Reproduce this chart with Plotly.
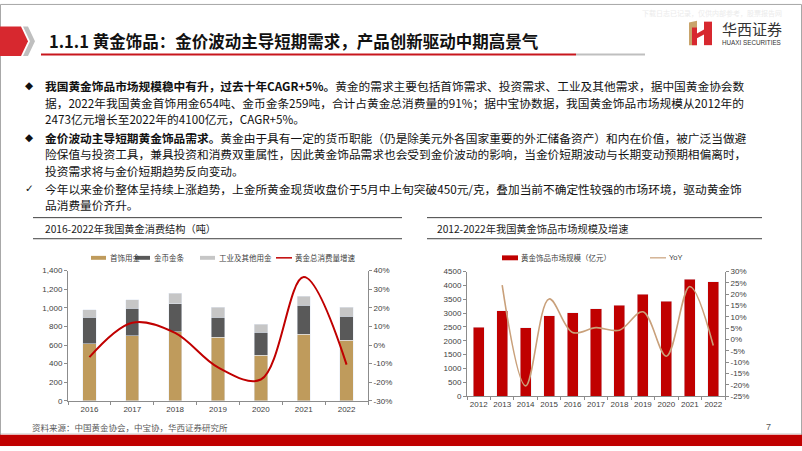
import plotly.graph_objects as go

W, H = 802, 451


def px(x):
    return x / W


def py(y):
    return 1 - y / H


# ---------------- data ----------------
years_a = ['2016', '2017', '2018', '2019', '2020', '2021', '2022']
jewelry = [612, 700, 742, 682, 490, 714, 654]          # 首饰用金 (吨)
coins = [288, 297, 304, 218, 249, 311, 256]            # 金币金条 (吨)
industrial = [77, 92, 109, 104, 83, 98, 94]            # 工业及其他用金 (吨)
growth_a = [-6.5, 12.0, 6.5, -12.0, -18.5, 36.5, -10.5]  # 黄金总消费量增速 (%)

years_b = ['2012', '2013', '2014', '2015', '2016', '2017', '2018', '2019', '2020', '2021', '2022']
market = [2485, 3086, 2474, 2898, 3004, 3157, 3286, 3687, 3428, 4229, 4123]  # 亿元
yoy_years = years_b[1:]
yoy = [24.0, -20.5, 17.9, 3.1, 5.2, 4.1, 12.2, -7.4, 23.4, -2.7]  # %

ticks_left_a = [0, 200, 400, 600, 800, 1000, 1200, 1400]
ticks_right_a = [-30, -20, -10, 0, 10, 20, 30, 40]
ticks_left_b = [0, 500, 1000, 1500, 2000, 2500, 3000, 3500, 4000, 4500]
ticks_right_b = [-25, -20, -15, -10, -5, 0, 5, 10, 15, 20, 25, 30]

GOLD = '#BF9B5C'
DARK = '#595959'
LIGHT = '#C6C6C6'
RED = '#C00000'
TAN = '#C9A07A'
AXC = '#8C8C8C'
TXT = '#404040'

fig = go.Figure()

fig.add_trace(go.Bar(x=years_a, y=jewelry, name='首饰用金', marker_color=GOLD,
                     width=0.31, xaxis='x', yaxis='y'))
fig.add_trace(go.Bar(x=years_a, y=coins, name='金币金条', marker_color=DARK,
                     width=0.31, xaxis='x', yaxis='y'))
fig.add_trace(go.Bar(x=years_a, y=industrial, name='工业及其他用金', marker_color=LIGHT,
                     width=0.31, xaxis='x', yaxis='y'))
fig.add_trace(go.Scatter(x=years_a, y=growth_a, name='黄金总消费量增速', mode='lines',
                         line=dict(color=RED, width=2, shape='spline', smoothing=1.0),
                         xaxis='x', yaxis='y2'))

fig.add_trace(go.Bar(x=years_b, y=market, name='黄金饰品市场规模（亿元）', marker_color=RED,
                     width=0.47, xaxis='x2', yaxis='y3'))
fig.add_trace(go.Scatter(x=yoy_years, y=yoy, name='YoY', mode='lines',
                         line=dict(color=TAN, width=1.6, shape='spline', smoothing=1.0),
                         xaxis='x2', yaxis='y4'))

tickfont = dict(family='Liberation Sans, Arial, sans-serif', size=8, color=TXT)
common = dict(showline=True, linecolor=AXC, linewidth=1, ticks='outside', ticklen=3,
              tickcolor=AXC, showgrid=False, zeroline=False, tickfont=tickfont)


def pct(vals):
    return [f'{v}%' for v in vals]


def thousands(vals):
    return [f'{v:,}' for v in vals]


layout = dict(
    width=W, height=H, margin=dict(l=0, r=0, t=0, b=0),
    paper_bgcolor='white', plot_bgcolor='white',
    barmode='stack', showlegend=False,
    xaxis=dict(domain=[px(68), px(368)], anchor='y', type='category', range=[-0.5, 6.5],
               tickson='boundaries', tickangle=0, **common),
    yaxis=dict(domain=[py(405), py(272)], anchor='x', range=[0, 1400],
               tickvals=ticks_left_a, ticktext=thousands(ticks_left_a), **common),
    yaxis2=dict(overlaying='y', side='right', anchor='x', range=[-30, 40],
                tickvals=ticks_right_a, ticktext=pct(ticks_right_a), **common),
    xaxis2=dict(domain=[px(467), px(725)], anchor='y3', type='category', range=[-0.5, 10.5],
                tickson='boundaries', tickangle=0, **common),
    yaxis3=dict(domain=[py(400), py(273)], anchor='x2', range=[0, 4500],
                tickvals=ticks_left_b, ticktext=[str(v) for v in ticks_left_b], **common),
    yaxis4=dict(overlaying='y3', side='right', anchor='x2', range=[-25, 30],
                tickvals=ticks_right_b, ticktext=pct(ticks_right_b), **common),
)
fig.update_layout(**layout)

shapes = []
ann = []


def rect(x0, y0, x1, y1, color, line=None):
    shapes.append(dict(type='rect', xref='paper', yref='paper', x0=px(x0), x1=px(x1),
                       y0=py(y1), y1=py(y0), fillcolor=color,
                       line=dict(width=0) if line is None else line, layer='above'))


def hline(x0, x1, y, color, width=1):
    shapes.append(dict(type='line', xref='paper', yref='paper', x0=px(x0), x1=px(x1),
                       y0=py(y), y1=py(y), line=dict(color=color, width=width)))


def poly(points, color):
    d = 'M ' + ' L '.join(f'{px(a):.5f},{py(b):.5f}' for a, b in points) + ' Z'
    shapes.append(dict(type='path', xref='paper', yref='paper', path=d,
                       fillcolor=color, line=dict(width=0)))


def text(x, y, s, size=9, color=TXT, family='Noto Sans CJK SC', xanchor='left', bold=False,
         align='left'):
    if bold:
        s = '<b>' + s + '</b>'
    ann.append(dict(x=px(x), y=py(y), xref='paper', yref='paper', text=s, showarrow=False,
                    xanchor=xanchor, yanchor='middle', align=align,
                    font=dict(size=size, color=color, family=family)))


# slide border
shapes.append(dict(type='rect', xref='paper', yref='paper', x0=0.0006, x1=0.9994, y0=0.001, y1=0.999,
                   line=dict(color='#A6A6A6', width=1), fillcolor='rgba(0,0,0,0)'))

# title marker
poly([(0, 23), (21, 23), (28, 38), (21, 53), (0, 53)], '#D7282F')
poly([(23, 23), (28, 23), (35, 38), (28, 53), (23, 53), (30, 38)], '#BFBFBF')
# title underline
hline(41, 576, 51.5, '#C8161D', 2)
hline(576, 645, 51.5, '#BFBFBF', 2)
text(47, 37.5, '1.1.1 黄金饰品：金价波动主导短期需求，产品创新驱动中期高景气', size=16.5,
     color='#111111', bold=True)

# watermark
text(640, 9, '下载日志已记录，仅供内部参考，股票报告网', size=7, color='#EBEBEB')

# logo
poly([(689, 19), (697, 17), (697, 42), (689, 42)], '#C9A46B')
poly([(704, 18), (712, 18), (712, 42), (704, 42)], '#D7282F')
poly([(697, 30), (704, 26), (704, 31), (697, 35)], '#D7282F')
poly([(692, 24), (697, 24), (697, 42), (692, 42)], '#D7282F')
text(720, 25, '华西证券', size=15, color='#333333', family='Noto Sans CJK SC')
text(720, 39.5, 'HUAXI SECURITIES', size=6.3, color='#333333', family='Liberation Sans, Arial')

# body text (one annotation per line)
body_font = 'Noto Sans CJK SC'
BS = 11.7
body_lines = [
    (83, '◆', '<b>我国黄金饰品市场规模稳中有升，过去十年CAGR+5%。</b>黄金的需求主要包括首饰需求、投资需求、工业及其他需求，据中国黄金协会数'),
    (100, '', '据，2022年我国黄金首饰用金654吨、金币金条259吨，合计占黄金总消费量的91%；据中宝协数据，我国黄金饰品市场规模从2012年的'),
    (117, '', '2473亿元增长至2022年的4100亿元，CAGR+5%。'),
    (136, '◆', '<b>金价波动主导短期黄金饰品需求。</b>黄金由于具有一定的货币职能（仍是除美元外各国家重要的外汇储备资产）和内在价值，被广泛当做避'),
    (153, '', '险保值与投资工具，兼具投资和消费双重属性，因此黄金饰品需求也会受到金价波动的影响，当金价短期波动与长期变动预期相偏离时，'),
    (170, '', '投资需求将与金价短期趋势反向变动。'),
    (188, '✓', '今年以来金价整体呈持续上涨趋势，上金所黄金现货收盘价于5月中上旬突破450元/克，叠加当前不确定性较强的市场环境，驱动黄金饰'),
    (205, '', '品消费量价齐升。'),
]
for y, bullet, s in body_lines:
    if bullet:
        text(29, y, bullet, size=10.5, color='#111111', family='DejaVu Sans', xanchor='center')
    text(43, y, s, size=BS, color='#111111', family=body_font)

# chart titles
hline(33, 402, 218, '#404040', 1)
hline(33, 402, 239.5, '#404040', 1)
text(43, 229, '2016-2022年我国黄金消费结构（吨）', size=10.2, color='#222222')
hline(427, 762, 218, '#404040', 1)
hline(427, 762, 239.5, '#404040', 1)
text(435, 229, '2012-2022年我国黄金饰品市场规模及增速', size=10.2, color='#222222')

# legend left
LY = 259
LS = 7.5
rect(91, LY - 2, 106, LY + 2, GOLD)
text(108, LY, '首饰用金', size=LS)
rect(135, LY - 2, 150, LY + 2, DARK)
text(152, LY, '金币金条', size=LS)
rect(200, LY - 2, 215, LY + 2, LIGHT)
text(217, LY, '工业及其他用金', size=LS)
hline(276, 292, LY, RED, 1.5)
text(293, LY, '黄金总消费量增速', size=LS)

# legend right
rect(502, LY - 2.5, 518, LY + 2.5, RED)
text(519, LY, '黄金饰品市场规模（亿元）', size=LS)
hline(650, 666, LY, TAN, 1.2)
text(667, LY, 'YoY', size=LS, family='Liberation Sans, Arial')

# footer
text(30, 432, '资料来源：中国黄金协会，中宝协，华西证券研究所', size=8.5, color='#595959')
text(768, 432, '7', size=9, color='#595959', family='Liberation Sans, Arial', xanchor='center')
hline(1, 801, 438.5, '#D9D9D9', 1)
rect(0, 439.5, 802, 451, '#C00000')

fig.update_layout(shapes=shapes, annotations=ann)

fig.write_html("out.html", config={'displayModeBar': False},
               post_script="document.body.style.margin='0';document.body.style.overflow='hidden';")
